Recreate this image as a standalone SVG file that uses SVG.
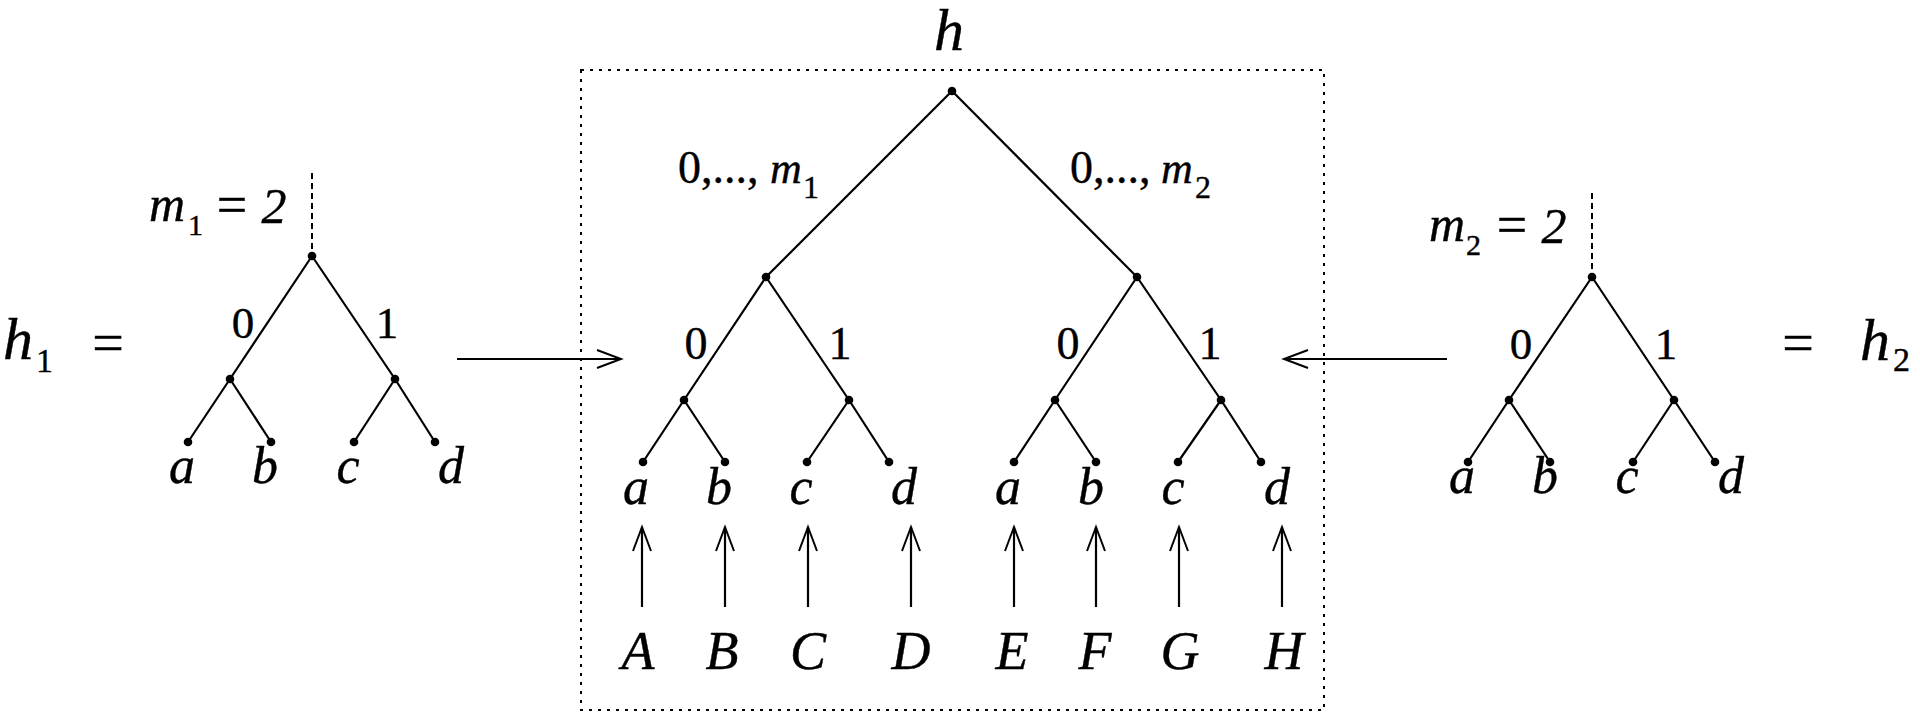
<svg xmlns="http://www.w3.org/2000/svg" width="1920" height="720" viewBox="0 0 1920 720" font-family="Liberation Serif">
<style>
.e{stroke:#000;stroke-width:2.2;fill:none}
.d{fill:#000}
.box{stroke:#000;stroke-width:2;fill:none;stroke-dasharray:3 6}
.dash{stroke:#000;stroke-width:2;fill:none;stroke-dasharray:6 4}
</style>
<defs>
<marker id="ah" viewBox="-28 -12 32 24" markerWidth="32" markerHeight="24" refX="0" refY="0" orient="auto" markerUnits="userSpaceOnUse">
<path d="M-24,-9 L0,0 L-24,9" fill="none" stroke="#000" stroke-width="2"/>
</marker>
</defs>
<rect width="1920" height="720" fill="#fff"/>

<g id="h1-label" font-family="Liberation Serif" fill="#000" stroke="#000" stroke-width="0.4">
<text font-style="italic" x="3" y="359" font-size="60">h</text>
<text x="36" y="372" font-size="34">1</text>
<text x="108" y="362" font-size="56" text-anchor="middle">=</text>
</g>

<g id="tree-h1">
<line class="dash" x1="312" y1="173" x2="312" y2="256"/>
<path class="e" d="M312,256 L230,379 M312,256 L395,379 M230,379 L188,442 M230,379 L271,442 M395,379 L354,442 M395,379 L435,442"/>
<g class="d"><circle cx="312" cy="256" r="4.3"/><circle cx="230" cy="379" r="4.3"/><circle cx="395" cy="379" r="4.3"/><circle cx="188" cy="442" r="4.3"/><circle cx="271" cy="442" r="4.3"/><circle cx="354" cy="442" r="4.3"/><circle cx="435" cy="442" r="4.3"/></g>
<g font-family="Liberation Serif" fill="#000" stroke="#000" stroke-width="0.4">
<text font-style="italic" x="149" y="221" font-size="50">m</text>
<text x="188" y="235" font-size="30">1</text>
<text x="232" y="223" font-size="54" text-anchor="middle">=</text>
<text font-style="italic" x="274" y="223" font-size="50" text-anchor="middle">2</text>
<text x="243" y="338" font-size="45" text-anchor="middle">0</text>
<text x="387" y="338" font-size="45" text-anchor="middle">1</text>
<g font-size="52" text-anchor="middle" font-style="italic">
<text x="182" y="483">a</text>
<text x="265" y="483">b</text>
<text x="348" y="483">c</text>
<text x="451" y="483">d</text>
</g>
</g>
</g>

<rect id="h-box" class="box" x="581" y="70" width="743" height="640"/>
<g id="h-label" font-family="Liberation Serif" stroke="#000" stroke-width="0.4"><text font-style="italic" x="949" y="50" font-size="60" text-anchor="middle">h</text></g>

<g id="tree-h">
<path class="e" d="M952,91 L766,277 M952,91 L1137,277 M766,277 L684,400 M766,277 L849,400 M1137,277 L1055,400 M1137,277 L1221,400 M684,400 L643,462 M684,400 L725,462 M849,400 L807,462 M849,400 L889,462 M1055,400 L1014,462 M1055,400 L1096,462 M1221,400 L1178,462 M1221,400 L1261,462"/>
<g class="d">
<circle cx="952" cy="91" r="4.3"/><circle cx="766" cy="277" r="4.3"/><circle cx="1137" cy="277" r="4.3"/>
<circle cx="684" cy="400" r="4.3"/><circle cx="849" cy="400" r="4.3"/><circle cx="1055" cy="400" r="4.3"/><circle cx="1221" cy="400" r="4.3"/>
<circle cx="643" cy="462" r="4.3"/><circle cx="725" cy="462" r="4.3"/><circle cx="807" cy="462" r="4.3"/><circle cx="889" cy="462" r="4.3"/>
<circle cx="1014" cy="462" r="4.3"/><circle cx="1096" cy="462" r="4.3"/><circle cx="1178" cy="462" r="4.3"/><circle cx="1261" cy="462" r="4.3"/>
</g>
<g font-family="Liberation Serif" fill="#000" stroke="#000" stroke-width="0.4">
<text x="678" y="183" font-size="46">0,...,</text>
<text font-style="italic" x="770" y="183" font-size="44">m</text>
<text x="803" y="198" font-size="32">1</text>
<text x="1070" y="183" font-size="46">0,...,</text>
<text font-style="italic" x="1161" y="183" font-size="44">m</text>
<text x="1195" y="198" font-size="32">2</text>
<g font-size="46" text-anchor="middle">
<text x="696" y="359">0</text>
<text x="840" y="359">1</text>
<text x="1068" y="359">0</text>
<text x="1210" y="359">1</text>
</g>
<g font-size="52" text-anchor="middle" font-style="italic">
<text x="636" y="504">a</text>
<text x="719" y="504">b</text>
<text x="801" y="504">c</text>
<text x="904" y="504">d</text>
<text x="1008" y="504">a</text>
<text x="1091" y="504">b</text>
<text x="1173" y="504">c</text>
<text x="1277" y="504">d</text>
</g>
</g>
</g>

<g id="inputs" font-family="Liberation Serif" font-size="54" text-anchor="middle" font-style="italic" fill="#000" stroke="#000" stroke-width="0.4">
<g id="in-A"><text x="638" y="669">A</text></g>
<g id="in-B"><text x="722" y="669">B</text></g>
<g id="in-C"><text x="808" y="669">C</text></g>
<g id="in-D"><text x="911" y="669">D</text></g>
<g id="in-E"><text x="1012" y="669">E</text></g>
<g id="in-F"><text x="1095" y="669">F</text></g>
<g id="in-G"><text x="1180" y="669">G</text></g>
<g id="in-H"><text x="1284" y="669">H</text></g>
</g>

<g id="tree-h2">
<line class="dash" x1="1592" y1="193" x2="1592" y2="277"/>
<path class="e" d="M1592,277 L1509,400 M1592,277 L1674,400 M1509,400 L1468,462 M1509,400 L1550,462 M1674,400 L1633,462 M1674,400 L1715,462"/>
<g class="d"><circle cx="1592" cy="277" r="4.3"/><circle cx="1509" cy="400" r="4.3"/><circle cx="1674" cy="400" r="4.3"/><circle cx="1468" cy="462" r="4.3"/><circle cx="1550" cy="462" r="4.3"/><circle cx="1633" cy="462" r="4.3"/><circle cx="1715" cy="462" r="4.3"/></g>
<g font-family="Liberation Serif" fill="#000" stroke="#000" stroke-width="0.4">
<text font-style="italic" x="1429" y="241" font-size="50">m</text>
<text x="1466" y="255" font-size="30">2</text>
<text x="1512" y="243" font-size="54" text-anchor="middle">=</text>
<text font-style="italic" x="1554" y="243" font-size="50" text-anchor="middle">2</text>
<text x="1521" y="359" font-size="45" text-anchor="middle">0</text>
<text x="1666" y="359" font-size="45" text-anchor="middle">1</text>
<g font-size="52" text-anchor="middle" font-style="italic">
<text x="1462" y="493">a</text>
<text x="1545" y="493">b</text>
<text x="1627" y="493">c</text>
<text x="1731" y="493">d</text>
</g>
</g>
</g>

<g id="h2-label" font-family="Liberation Serif" fill="#000" stroke="#000" stroke-width="0.4">
<text x="1798" y="362" font-size="56" text-anchor="middle">=</text>
<text font-style="italic" x="1860" y="360" font-size="60">h</text>
<text x="1893" y="371" font-size="34">2</text>
</g>

<g id="connectors">
<line class="e" x1="457" y1="359" x2="621" y2="359" marker-end="url(#ah)"/>
<line class="e" x1="1447" y1="359" x2="1284" y2="359" marker-end="url(#ah)"/>
<line class="e" x1="642" y1="607" x2="642" y2="527" marker-end="url(#ah)"/>
<line class="e" x1="725" y1="607" x2="725" y2="527" marker-end="url(#ah)"/>
<line class="e" x1="808" y1="607" x2="808" y2="527" marker-end="url(#ah)"/>
<line class="e" x1="911" y1="607" x2="911" y2="527" marker-end="url(#ah)"/>
<line class="e" x1="1014" y1="607" x2="1014" y2="527" marker-end="url(#ah)"/>
<line class="e" x1="1096" y1="607" x2="1096" y2="527" marker-end="url(#ah)"/>
<line class="e" x1="1179" y1="607" x2="1179" y2="527" marker-end="url(#ah)"/>
<line class="e" x1="1282" y1="607" x2="1282" y2="527" marker-end="url(#ah)"/>
</g>
</svg>
